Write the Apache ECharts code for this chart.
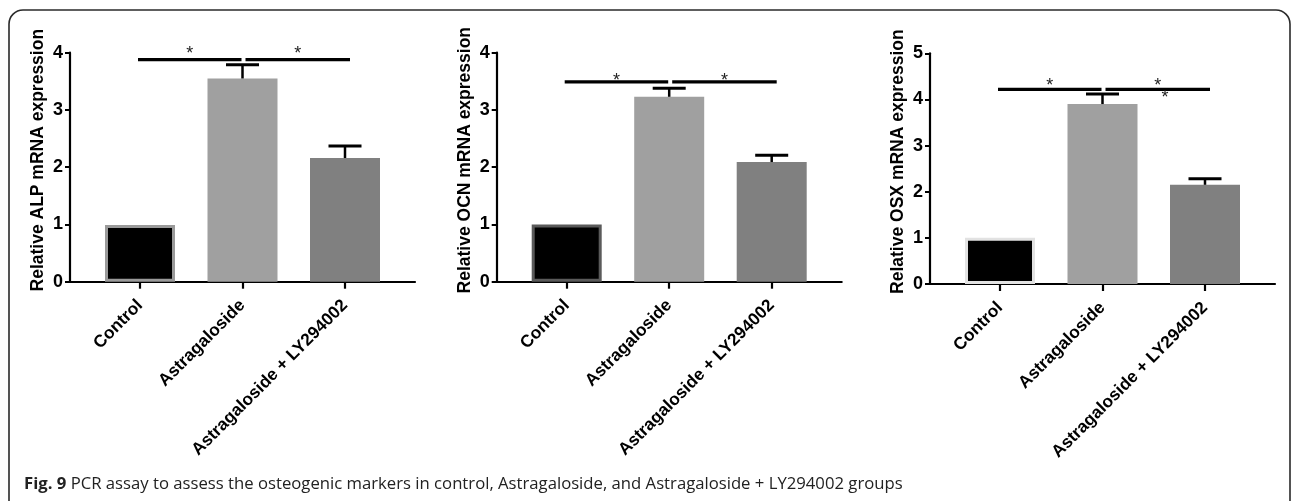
<!DOCTYPE html>
<html>
<head>
<meta charset="utf-8">
<script src="https://cdn.jsdelivr.net/npm/echarts@6/dist/echarts.min.js"></script>
<style>
html,body{margin:0;padding:0;background:#fff;}
#c{width:1292px;height:501px;}
</style>
</head>
<body>
<div id="c"></div>
<script>
// ---- data ----
const categories = ['Control', 'Astragaloside', 'Astragaloside + LY294002'];
const yTitles = ['Relative ALP mRNA expression', 'Relative OCN mRNA expression', 'Relative OSX mRNA expression'];
const alpMeans = [0.99, 3.55, 2.16];
const alpUpper = [null, 3.79, 2.37];
const ocnMeans = [1.0, 3.23, 2.09];
const ocnUpper = [null, 3.38, 2.21];
const osxMeans = [1.0, 3.90, 2.15];
const osxUpper = [null, 4.12, 2.28];
const yMaxes = [4, 4, 5];
const sigLevels = [3.88, 3.49, 4.22];
const extraStars = [[], [], [[1.61, 4.13]]];
const caption = 'PCR assay to assess the osteogenic markers in control, Astragaloside, and Astragaloside + LY294002 groups';

// ---- layout ----
const panels = [
  {axisX: 70, endX: 415, top: 52.7, bottom: 281.7, ctrlBorder: '#9a9a9a', starGap: 10},
  {axisX: 496.7, endX: 841.7, top: 52.7, bottom: 281.7, ctrlBorder: '#5a5a5a', starGap: 5},
  {axisX: 930, endX: 1275, top: 53.3, bottom: 284, ctrlBorder: '#e2e2e2', starGap: 7}
];
const means = [alpMeans, ocnMeans, osxMeans];
const uppers = [alpUpper, ocnUpper, osxUpper];
const barColors = ['#000000', '#a0a0a0', '#808080'];
const FONT = '"Liberation Sans", Arial, sans-serif';
const pad = 18.75;
const STAR = 18;

const grid = [], xAxis = [], yAxis = [], series = [];
panels.forEach((p, k) => {
  const gA = grid.length;
  grid.push({left: p.axisX, top: p.top, width: p.endX - p.axisX, height: p.bottom - p.top, containLabel: false, outerBoundsMode: 'none'});
  grid.push({left: p.axisX + pad, top: p.top, width: p.endX - p.axisX - 2 * pad, height: p.bottom - p.top, containLabel: false, outerBoundsMode: 'none'});
  const xa = xAxis.length;
  xAxis.push({type: 'value', gridIndex: gA, min: 0, max: 1, axisLine: {show: true, onZero: false, lineStyle: {color: '#000', width: 2.2}},
    axisTick: {show: false}, axisLabel: {show: false}, splitLine: {show: false}});
  xAxis.push({type: 'category', gridIndex: gA + 1, data: categories, boundaryGap: true,
    axisLine: {show: false}, axisTick: {show: true, alignWithLabel: true, length: 7, lineStyle: {color: '#000', width: 2.2}},
    axisLabel: {rotate: 45, interval: 0, margin: 21, color: '#000', fontWeight: 'bold', fontSize: 17.3, fontFamily: FONT},
    splitLine: {show: false}});
  const ya = yAxis.length;
  yAxis.push({type: 'value', gridIndex: gA, min: 0, max: yMaxes[k], interval: 1,
    axisLine: {show: true, lineStyle: {color: '#000', width: 2.2}},
    axisTick: {show: true, length: 5, lineStyle: {color: '#000', width: 2}},
    axisLabel: {color: '#000', fontWeight: 'bold', fontSize: 18, fontFamily: FONT, margin: 7},
    splitLine: {show: false},
    name: yTitles[k], nameLocation: 'middle', nameGap: 23,
    nameTextStyle: {color: '#000', fontWeight: 'bold', fontSize: 17.5, fontFamily: FONT, padding: [0, 0, 0, 14]}});
  yAxis.push({type: 'value', gridIndex: gA + 1, min: 0, max: yMaxes[k], show: false});

  series.push({
    type: 'bar', xAxisIndex: xa + 1, yAxisIndex: ya + 1, barWidth: 70, animation: false,
    data: means[k].map((v, i) => ({
      value: v,
      itemStyle: i === 0 ? {color: barColors[0], borderColor: p.ctrlBorder, borderWidth: 3}
                         : {color: barColors[i], borderWidth: 0}
    }))
  });
  const errData = [];
  uppers[k].forEach((u, i) => { if (u != null) errData.push([i, means[k][i], u]); });
  series.push({
    type: 'custom', xAxisIndex: xa + 1, yAxisIndex: ya + 1, clip: false, animation: false, z: 3,
    encode: {x: 0, y: [1, 2]},
    data: errData,
    renderItem: function (params, api) {
      const i = api.value(0);
      const p0 = api.coord([i, api.value(1)]);
      const p1 = api.coord([i, api.value(2)]);
      return {type: 'group', children: [
        {type: 'line', shape: {x1: p0[0], y1: p0[1], x2: p1[0], y2: p1[1]}, style: {stroke: '#000', lineWidth: 2.5}},
        {type: 'line', shape: {x1: p1[0] - 16.5, y1: p1[1], x2: p1[0] + 16.5, y2: p1[1]}, style: {stroke: '#000', lineWidth: 3}}
      ]};
    }
  });
  series.push({
    type: 'custom', xAxisIndex: xa + 1, yAxisIndex: ya + 1, clip: false, animation: false, z: 4,
    encode: {x: 0, y: 1},
    data: [[1, sigLevels[k]]],
    renderItem: function (params, api) {
      const s = api.value(1);
      const a = api.coord([0, s]), b = api.coord([1, s]), c = api.coord([2, s]);
      const step = b[0] - a[0];
      const l1 = [a[0] - 2, b[0] - 1], l2 = [b[0] + 3, c[0] + 5];
      const y = a[1];
      const sy = y - p.starGap + 4.2;
      const starStyle = {text: '*', fontSize: STAR, fontFamily: FONT, fill: '#222', align: 'center', verticalAlign: 'middle'};
      const kids = [
        {type: 'line', shape: {x1: l1[0], y1: y, x2: l1[1], y2: y}, style: {stroke: '#000', lineWidth: 3.2}},
        {type: 'line', shape: {x1: l2[0], y1: y, x2: l2[1], y2: y}, style: {stroke: '#000', lineWidth: 3.2}},
        {type: 'text', x: (l1[0] + l1[1]) / 2, y: sy, style: starStyle},
        {type: 'text', x: (l2[0] + l2[1]) / 2, y: sy, style: starStyle}
      ];
      extraStars[k].forEach(st => {
        const q = api.coord([0, st[1]]);
        kids.push({type: 'text', x: a[0] + st[0] * step, y: q[1] + 4.2, style: starStyle});
      });
      return {type: 'group', children: kids};
    }
  });
});

const chart = echarts.init(document.getElementById('c'), null, {renderer: 'canvas'});
chart.setOption({
  animation: false,
  backgroundColor: '#fff',
  grid: grid, xAxis: xAxis, yAxis: yAxis, series: series,
  graphic: [
    {type: 'rect', shape: {x: 9, y: 10, width: 1281, height: 560, r: [14, 14, 0, 0]},
     style: {fill: 'none', stroke: '#2a2a2a', lineWidth: 1.6}, z: 100},
    {type: 'text', left: 24, top: 476, z: 100,
     style: {text: '{b|Fig. 9} ' + caption,
       rich: {b: {fontWeight: 'bold', fontSize: 16.7, fontFamily: '"Open Sans", sans-serif', fill: '#222'}},
       fontSize: 16.7, fontFamily: '"Open Sans", sans-serif', fill: '#222'}}
  ]
});
</script>
</body>
</html>
